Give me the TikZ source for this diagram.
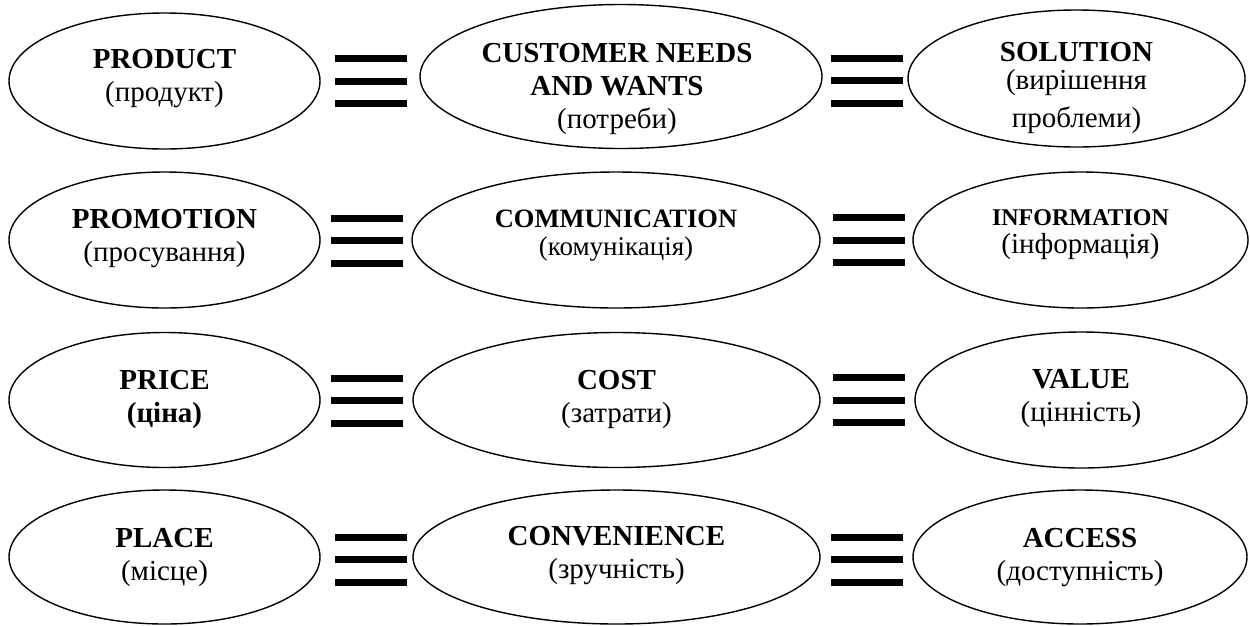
\documentclass[tikz,border=0pt]{standalone}
\usepackage{fontspec}
\setmainfont{Liberation Serif}
\usetikzlibrary{shapes.geometric}
\begin{document}
\begin{tikzpicture}[x=1pt,y=-1pt,
  oval/.style={draw, ellipse, line width=1.4pt, inner sep=0pt},
  caption/.style={align=center, inner sep=0pt, font=\fontsize{29}{33}\selectfont},
  equiv/.style={minimum width=72pt, minimum height=52pt, inner sep=0pt,
    path picture={
      \fill (path picture bounding box.north west) rectangle ([yshift=-7pt]path picture bounding box.north east);
      \fill ([yshift=3.5pt]path picture bounding box.west) rectangle ([yshift=-3.5pt]path picture bounding box.east);
      \fill ([yshift=7pt]path picture bounding box.south west) rectangle (path picture bounding box.south east);
    }}
]
\useasboundingbox (0,0) rectangle (1250,625);

% ---- row 1: product ----
\node[oval, minimum width=311pt, minimum height=136pt] (product) at (164.5,81) {};
\node[oval, minimum width=402pt, minimum height=144pt] (needs) at (621,76.5) {};
\node[oval, minimum width=337pt, minimum height=137pt] (solution) at (1076.5,78.5) {};
\node[equiv] (eq11) at (371,81) {};
\node[equiv] (eq12) at (867,80.5) {};
\node[caption] (productT) at (164.5,79) {\textbf{PRODUCT}\\(продукт)};
\node[caption] (needsT) at (617,89) {\textbf{CUSTOMER NEEDS}\\\textbf{AND WANTS}\\(потреби)};
\node[caption] (solutionT) at (1076.5,88) {\textbf{SOLUTION}\\[-5pt](вирішення\\[5pt]проблеми)};

% ---- row 2: promotion ----
\node[oval, minimum width=311pt, minimum height=136pt] (promotion) at (164.5,240) {};
\node[oval, minimum width=408pt, minimum height=136pt] (communication) at (616,240) {};
\node[oval, minimum width=335pt, minimum height=136pt] (information) at (1080.5,240) {};
\node[equiv] (eq21) at (367,240.5) {};
\node[equiv] (eq22) at (869,240) {};
\node[caption] (promotionT) at (164.5,239) {\textbf{PROMOTION}\\(просування)};
\node[caption] (communicationT) at (616,236) {{\fontsize{26.5}{30}\selectfont\textbf{COMMUNICATION}}\\[-5pt]{\fontsize{27}{32}\selectfont(комунікація)}};
\node[caption] (informationT) at (1080.5,235) {{\fontsize{24}{28}\selectfont\textbf{INFORMATION}}\\[-5pt](інформація)};

% ---- row 3: price ----
\node[oval, minimum width=311pt, minimum height=135pt] (price) at (164.5,400) {};
\node[oval, minimum width=407pt, minimum height=135pt] (cost) at (616.5,400) {};
\node[oval, minimum width=332pt, minimum height=136pt] (value) at (1081,400) {};
\node[equiv] (eq31) at (367,400.5) {};
\node[equiv] (eq32) at (869,400) {};
\node[caption] (priceT) at (164.5,399) {\textbf{PRICE}\\\textbf{(ціна)}};
\node[caption] (costT) at (616.5,399) {\textbf{COST}\\(затрати)};
\node[caption] (valueT) at (1081,399) {\textbf{VALUE}\\(цінність)};

% ---- row 4: place ----
\node[oval, minimum width=311pt, minimum height=134pt] (place) at (164.5,557) {};
\node[oval, minimum width=407pt, minimum height=134pt] (convenience) at (616.5,557) {};
\node[oval, minimum width=334pt, minimum height=134pt] (access) at (1080,557) {};
\node[equiv] (eq41) at (371,559.5) {};
\node[equiv] (eq42) at (867,559.5) {};
\node[caption] (placeT) at (164.5,557) {\textbf{PLACE}\\(місце)};
\node[caption] (convenienceT) at (616.5,556) {\textbf{CONVENIENCE}\\(зручність)};
\node[caption] (accessT) at (1080,558) {\textbf{ACCESS}\\(доступність)};
\end{tikzpicture}
\end{document}
